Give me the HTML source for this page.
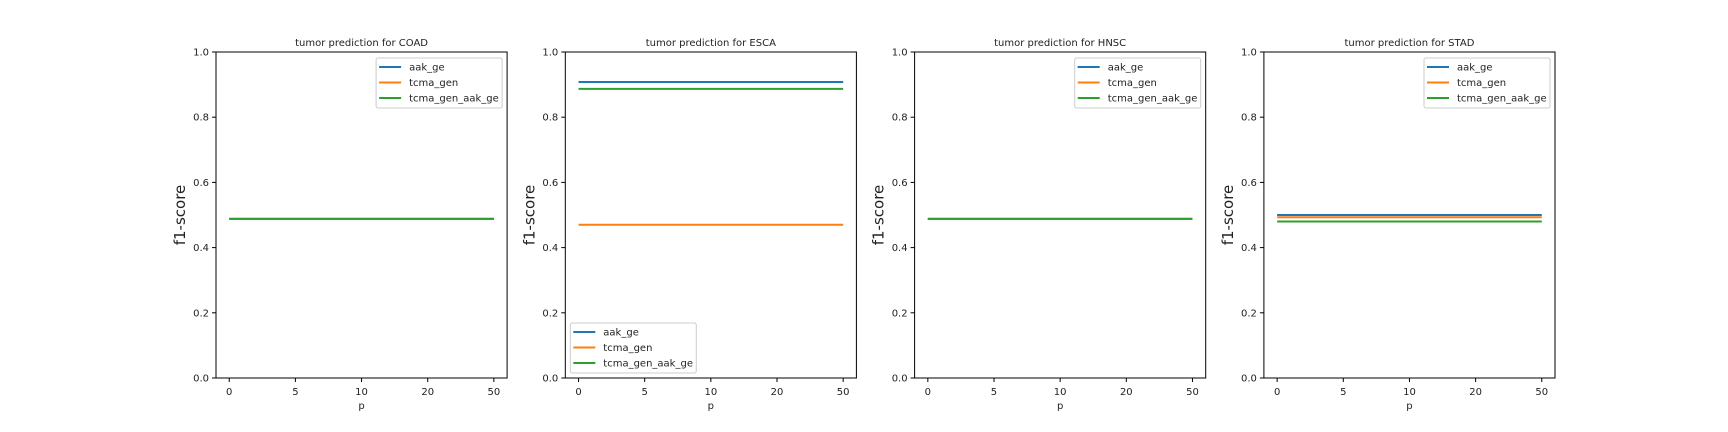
<!DOCTYPE html>
<html><head><meta charset="utf-8"><style>
html,body{margin:0;padding:0;background:#fff;}
svg{display:block;font-family:"DejaVu Sans","Liberation Sans",sans-serif;}
</style></head><body>
<svg id="fig" width="1728" height="432" viewBox="0 0 1728 432"></svg>
<script>
const categories = ["0","5","10","20","50"];
const titles = ["COAD","ESCA","HNSC","STAD"];
const seriesNames = ["aak_ge","tcma_gen","tcma_gen_aak_ge"];
const coadValues = [[0.488,0.488,0.488,0.488,0.488],[0.488,0.488,0.488,0.488,0.488],[0.488,0.488,0.488,0.488,0.488]];
const escaValues = [[0.908,0.908,0.908,0.908,0.908],[0.470,0.470,0.470,0.470,0.470],[0.887,0.887,0.887,0.887,0.887]];
const hnscValues = [[0.488,0.488,0.488,0.488,0.488],[0.488,0.488,0.488,0.488,0.488],[0.488,0.488,0.488,0.488,0.488]];
const stadValues = [[0.500,0.500,0.500,0.500,0.500],[0.493,0.493,0.493,0.493,0.493],[0.480,0.480,0.480,0.480,0.480]];
const yTicks = [0,0.2,0.4,0.6,0.8,1.0];
const yTickLabels = ["0.0","0.2","0.4","0.6","0.8","1.0"];
const legendLoc = ["upper right","lower left","upper right","upper right"];

const colors = ["#1f77b4","#ff7f0e","#2ca02c"];
const allValues = [coadValues, escaValues, hnscValues, stadValues];
const NS = "http://www.w3.org/2000/svg";
const svg = document.getElementById("fig");
function mk(tag, attrs, parent){ const e=document.createElementNS(NS,tag); for(const k in attrs) e.setAttribute(k,attrs[k]); parent.appendChild(e); return e; }

const axW = 291.1, gap = 58.2, axTop = 52, axBot = 378, axLeft0 = 216;
for (let a=0;a<4;a++){
  const L = axLeft0 + a*(axW+gap), R = L+axW;
  const g = mk("g",{},svg);
  
  
  const xs = i => L + (i+0.2)/4.4*axW;
  const ys = v => axBot - v*(axBot-axTop);
  // lines
  allValues[a].forEach((vals,s)=>{
    const pts = vals.map((v,i)=>xs(i).toFixed(2)+","+ys(v).toFixed(2)).join(" ");
    const pl = mk("polyline",{points:pts,fill:"none",stroke:colors[s],"stroke-width":2},g);
    
    
  });
  // frame
  const fr = mk("rect",{x:L,y:axTop,width:axW,height:axBot-axTop,fill:"none",stroke:"#000","stroke-width":1},g);
  
  
  // x ticks
  categories.forEach((c,i)=>{
    const x = xs(i);
    mk("line",{x1:x,x2:x,y1:axBot,y2:axBot+4,stroke:"#000","stroke-width":1},g);
    const t = mk("text",{x:x,y:axBot+17,"font-size":10,"text-anchor":"middle",fill:"#222"},g);
    t.textContent = c;
    
    
  });
  // y ticks
  yTicks.forEach((v,i)=>{
    const y = ys(v);
    mk("line",{x1:L-4,x2:L,y1:y,y2:y,stroke:"#000","stroke-width":1},g);
    const t = mk("text",{x:L-7,y:y+3.5,"font-size":10,"text-anchor":"end",fill:"#222"},g);
    t.textContent = yTickLabels[i];
    
    
  });
  const xl = mk("text",{x:(L+R)/2,y:axBot+31,"font-size":10,"text-anchor":"middle",fill:"#222"},g);
  xl.textContent = "p";
  
  
  const yl = mk("text",{x:0,y:0,"font-size":15,"text-anchor":"middle",fill:"#222",transform:"translate("+(L-31)+","+((axTop+axBot)/2)+") rotate(-90)"},g);
  yl.textContent = "f1-score";
  
  
  const ti = mk("text",{x:(L+R)/2,y:axTop-6,"font-size":10,"text-anchor":"middle",fill:"#222"},g);
  ti.textContent = "tumor prediction for "+titles[a];
  
  
  // legend
  const lw = 126, lh = 50;
  const lx = legendLoc[a]==="upper right" ? R-5-lw : L+5;
  const ly = legendLoc[a]==="upper right" ? axTop+6 : axBot-5-lh;
  const lg = mk("g",{},g);
  
  
  mk("rect",{x:lx,y:ly,width:lw,height:lh,rx:2,fill:"#fff","fill-opacity":0.8,stroke:"#ccc","stroke-width":1},lg);
  seriesNames.forEach((n,s)=>{
    const yy = ly+9+s*15.5;
    mk("line",{x1:lx+3,x2:lx+25,y1:yy,y2:yy,stroke:colors[s],"stroke-width":2},lg);
    const t = mk("text",{x:lx+33,y:yy+3.5,"font-size":10,fill:"#222"},lg);
    t.textContent = n;
    
    
  });
}
</script>
</body></html>
